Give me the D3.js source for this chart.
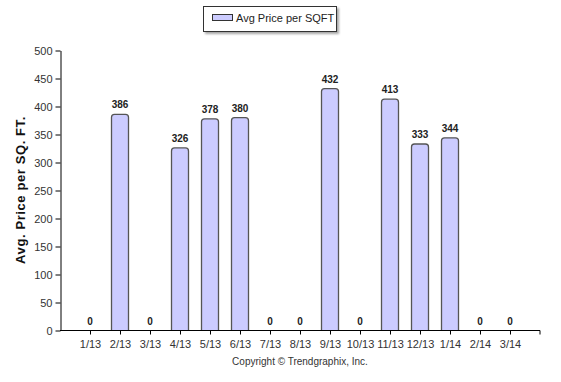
<!DOCTYPE html>
<html><head><meta charset="utf-8">
<script src="https://cdn.jsdelivr.net/npm/d3@7"></script>
<style>body{margin:0;background:#fff}svg{display:block}</style>
</head><body>
<script>
const categories = ["1/13","2/13","3/13","4/13","5/13","6/13","7/13","8/13","9/13","10/13","11/13","12/13","1/14","2/14","3/14"];
const values = [0,386,0,326,378,380,0,0,432,0,413,333,344,0,0];
const yTicks = [0,50,100,150,200,250,300,350,400,450,500];
const seriesName = "Avg Price per SQFT";
const yTitle = "Avg. Price per SQ. FT.";
const copyright = "Copyright \u00A9 Trendgraphix, Inc.";

const W = 561, H = 382;
const svg = d3.select("body").append("svg").attr("width", W).attr("height", H);
const font = "Liberation Sans, Arial, sans-serif";

const x = d3.scalePoint().domain(categories).range([60, 540]).padding(1);
const y = d3.scaleLinear().domain([0, 500]).range([330.5, 50.5]);

const defs = svg.append("defs");
const f = defs.append("filter").attr("id","sh").attr("x","-10%").attr("y","-20%").attr("width","130%").attr("height","160%");
f.append("feDropShadow").attr("dx",2).attr("dy",2).attr("stdDeviation",1).attr("flood-color","#000").attr("flood-opacity",0.35);

const bw = 17;
const r = 3;
function barPath(cx, top, bottom) {
  const x0 = cx - bw/2, x1 = cx + bw/2;
  return `M${x0},${bottom} L${x0},${top+r} Q${x0},${top} ${x0+r},${top} L${x1-r},${top} Q${x1},${top} ${x1},${top+r} L${x1},${bottom}`;
}
const g = svg.append("g");
categories.forEach((c, i) => {
  const v = values[i];
  const cx = x(c);
  if (v > 0) {
    g.append("path").attr("d", barPath(cx, y(v), y(0)) + " Z")
      .attr("fill", "#ccccff").attr("stroke", "none");
    g.append("path").attr("d", barPath(cx, y(v), y(0)))
      .attr("fill", "none").attr("stroke", "#555").attr("stroke-width", 1.3);
  }
  g.append("text").attr("x", cx).attr("y", y(v) - 6)
    .attr("text-anchor", "middle").attr("font-family", font)
    .attr("font-size", 10).attr("font-weight", "bold").attr("fill", "#222")
    .text(v);
});

const yAxis = d3.axisLeft(y).tickValues(yTicks).tickSize(5).tickSizeOuter(0);
const ya = svg.append("g").attr("transform", "translate(60.5,0)").call(yAxis);
ya.selectAll("text").attr("font-family", font).attr("font-size", 11).attr("fill", "#333");
ya.select(".domain").attr("stroke", "#000");
ya.selectAll(".tick line").attr("stroke", "#000");

const xAxis = d3.axisBottom(x).tickSize(4).tickSizeOuter(0);
const xa = svg.append("g").attr("transform", "translate(0,330.5)").call(xAxis);
xa.selectAll("text").attr("font-family", font).attr("font-size", 11).attr("fill", "#333").attr("dy", "0.95em");
xa.select(".domain").attr("stroke", "#000").attr("d", "M60,0H540V4");
xa.selectAll(".tick line").attr("stroke", "#000");

svg.append("text").attr("transform", "translate(25,190) rotate(-90)")
  .attr("text-anchor", "middle").attr("font-family", font)
  .attr("font-size", 13).attr("font-weight", "bold").attr("fill", "#111")
  .attr("letter-spacing", 0.6)
  .text(yTitle);

svg.append("text").attr("x", 300).attr("y", 365).attr("text-anchor", "middle")
  .attr("font-family", font).attr("font-size", 10).attr("fill", "#333").text(copyright);

const lg = svg.append("g");
lg.append("rect").attr("x", 203.5).attr("y", 6.5).attr("width", 133).attr("height", 25)
  .attr("fill", "#fff").attr("stroke", "#333").attr("filter", "url(#sh)");
lg.append("rect").attr("x", 212.5).attr("y", 14.5).attr("width", 20).attr("height", 6)
  .attr("fill", "#ccccff").attr("stroke", "#333");
lg.append("text").attr("x", 236).attr("y", 22).attr("font-family", font)
  .attr("font-size", 11).attr("fill", "#222").text(seriesName);
</script>
</body></html>
